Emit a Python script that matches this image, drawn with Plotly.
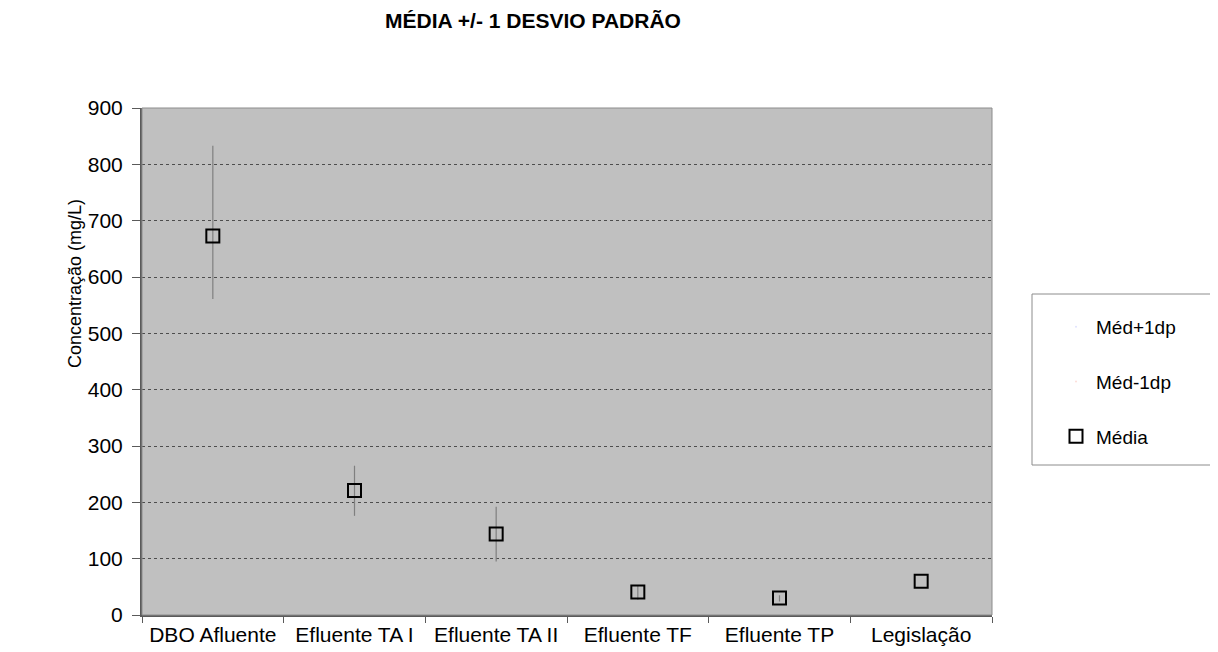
import plotly.graph_objects as go

categories = ["DBO Afluente", "Efluente TA I", "Efluente TA II", "Efluente TF", "Efluente TP", "Legislação"]
media = [673, 221, 144, 41, 30, 60]
med_mais_1dp = [833, 265, 192, 53, 35, 60]
med_menos_1dp = [561, 176, 95, 27, 24, 60]
y_ticks = [0, 100, 200, 300, 400, 500, 600, 700, 800, 900]

FONT = "Liberation Sans, Arial, sans-serif"

err_plus = [u - m for u, m in zip(med_mais_1dp, media)]
err_minus = [m - l for m, l in zip(media, med_menos_1dp)]

# page body has an 8px margin, so figure origin is at (8, 8) in the window
W, H = 1218, 644
PX0, PX1, PY0, PY1 = 142, 992, 108, 615  # plot area in window pixels


def px(xw):
    return (xw - PX0) / (PX1 - PX0)


def py(yw):
    return (PY1 - yw) / (PY1 - PY0)


fig = go.Figure()

fig.add_trace(go.Scatter(
    x=categories, y=med_mais_1dp, name="Méd+1dp", mode="markers",
    marker=dict(opacity=0, size=1), legendgroup="a", hoverinfo="skip"))
fig.add_trace(go.Scatter(
    x=categories, y=med_menos_1dp, name="Méd-1dp", mode="markers",
    marker=dict(opacity=0, size=1), legendgroup="b", hoverinfo="skip"))
fig.add_trace(go.Scatter(
    x=categories, y=media, name="Média", mode="markers", legendgroup="c",
    marker=dict(symbol="square-open", size=13, color="black", line=dict(width=2, color="#111111")),
    error_y=dict(type="data", symmetric=False, array=err_plus, arrayminus=err_minus,
                 color="#7f7f7f", thickness=1.2, width=0)))

fig.update_layout(
    width=W, height=H,
    margin=dict(l=PX0 - 8, r=W - (PX1 - 8), t=PY0 - 8, b=H - (PY1 - 8), autoexpand=False),
    paper_bgcolor="white", plot_bgcolor="#c0c0c0",
    font=dict(family=FONT, size=19, color="black"),
    title=dict(text="<b>MÉDIA +/- 1 DESVIO PADRÃO</b>", x=(533 - 8) / W, xanchor="center",
               y=1 - (21 - 8) / H, yanchor="middle", font=dict(size=21, family=FONT)),
    showlegend=True,
    legend=dict(x=px(1056), xanchor="left", y=py(308), yanchor="top",
                bgcolor="rgba(0,0,0,0)", borderwidth=0,
                font=dict(size=19, family=FONT), tracegroupgap=27,
                itemwidth=30),
    shapes=[
        dict(type="rect", xref="paper", yref="paper", x0=0, x1=1, y0=0, y1=1,
             line=dict(color="#8c8c8c", width=1), layer="above"),
        dict(type="rect", xref="paper", yref="paper", x0=px(1032), x1=px(1240),
             y0=py(465), y1=py(294), line=dict(color="#8c8c8c", width=1),
             fillcolor="rgba(0,0,0,0)", layer="below"),
    ],
    annotations=[
        dict(text="Concentração (mg/L)", xref="paper", yref="paper", x=px(75), y=py(284),
             xanchor="center", yanchor="middle", textangle=-90, showarrow=False,
             font=dict(size=18, family=FONT, color="black")),
    ],
)

fig.update_xaxes(
    type="category", categoryorder="array", categoryarray=categories,
    range=[-0.5, 5.5], automargin=False,
    showgrid=False, zeroline=False,
    showline=True, linecolor="#5a5a5a", linewidth=2,
    ticks="outside", tickson="boundaries", ticklen=6, tickcolor="#5a5a5a",
    tickfont=dict(size=21, family=FONT, color="black"),
)
fig.update_yaxes(
    range=[0, 900], tickvals=y_ticks, ticktext=[str(v) for v in y_ticks],
    automargin=False,
    showgrid=True, gridcolor="#4d4d4d", griddash="dot", gridwidth=1,
    zeroline=False,
    showline=True, linecolor="#5a5a5a", linewidth=2,
    ticks="outside", ticklen=8, tickcolor="#5a5a5a", ticklabelstandoff=5,
    tickfont=dict(size=21, family=FONT, color="black"),
)

fig.write_html("out.html")
